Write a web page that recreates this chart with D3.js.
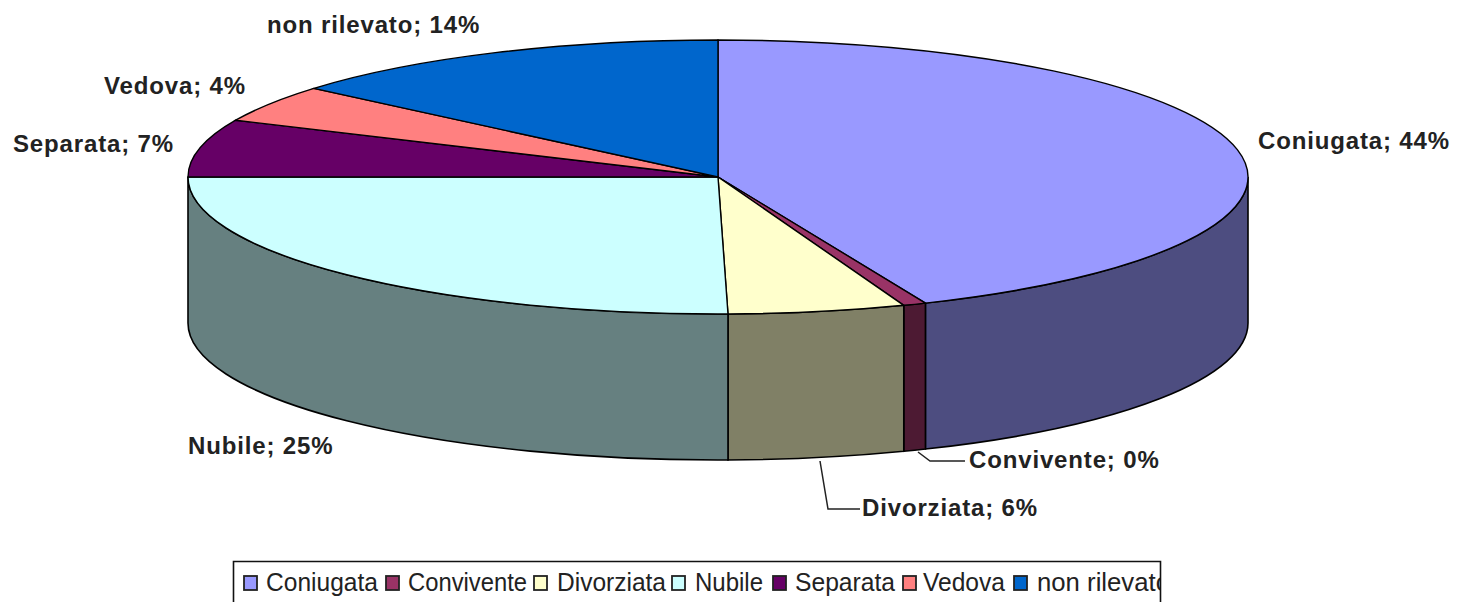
<!DOCTYPE html>
<html>
<head>
<meta charset="utf-8">
<script src="https://cdn.jsdelivr.net/npm/d3@7"></script>
<style>
  html, body { margin: 0; padding: 0; background: #fff; overflow: hidden; }
  svg { display: block; }
</style>
</head>
<body>
<div id="chart"></div>
<script>
// data
var categories = ["Coniugata", "Convivente", "Divorziata", "Nubile", "Separata", "Vedova", "non rilevato"];
var sliceValues = [43.6, 0.7, 5.4, 25.3, 6.8, 4.4, 13.8];
var shownPercent = [44, 0, 6, 25, 7, 4, 14];
var topColors = ["#9999FF", "#993366", "#FFFFCC", "#CCFFFF", "#660066", "#FF8080", "#0066CC"];

var svgWidth = 1461;
var svgHeight = 602;

// pie geometry
var cx = 718, cy = 177, rx = 530, ry = 137, depth = 146;

// label anchors, same order as categories
var labelPos = [[1258, 149], [969, 468], [862, 516], [188, 454], [13, 152], [104, 94], [267, 33]];

var svg = d3.select("#chart").append("svg")
    .attr("width", svgWidth)
    .attr("height", svgHeight);

var pie = d3.pie().sort(null).value(function(d) { return d; });
var slices = pie(sliceValues);

function px(a) { return cx + rx * Math.sin(a); }
function py(a) { return cy - ry * Math.cos(a); }

// side wall of a slice, only the part facing the viewer
function wallPath(s) {
    var a0 = Math.max(s.startAngle, Math.PI / 2);
    var a1 = Math.min(s.endAngle, Math.PI * 1.5);
    if (a1 <= a0) return null;
    return "M" + px(a0) + "," + py(a0) +
        "A" + rx + "," + ry + " 0 0 1 " + px(a1) + "," + py(a1) +
        "L" + px(a1) + "," + (py(a1) + depth) +
        "A" + rx + "," + ry + " 0 0 0 " + px(a0) + "," + (py(a0) + depth) + "Z";
}

svg.append("g").selectAll("path")
    .data(slices.filter(function(s) { return wallPath(s) !== null; }))
    .enter().append("path")
    .attr("d", wallPath)
    .attr("fill", function(s) {
        var c = d3.rgb(topColors[s.index]);
        return d3.rgb(c.r * 0.5, c.g * 0.5, c.b * 0.5);
    })
    .attr("stroke", "#000")
    .attr("stroke-width", 1.6);

// top face: unit arc squashed into the ellipse
var arc = d3.arc().innerRadius(0).outerRadius(rx);
svg.append("g")
    .attr("transform", "translate(" + cx + "," + cy + ") scale(1," + (ry / rx) + ")")
    .selectAll("path")
    .data(slices)
    .enter().append("path")
    .attr("d", arc)
    .attr("fill", function(s) { return topColors[s.index]; })
    .attr("stroke", "#000")
    .attr("stroke-width", 1.4)
    .attr("vector-effect", "non-scaling-stroke");

// leader lines
var line = d3.line();
[[[918, 452], [930, 461], [965, 461]], [[820, 461], [828, 509], [860, 509]]].forEach(function(l) {
    svg.append("path")
        .attr("d", line(l))
        .attr("fill", "none")
        .attr("stroke", "#222")
        .attr("stroke-width", 1.5);
});

// data labels
svg.append("g").selectAll("text")
    .data(categories)
    .enter().append("text")
    .attr("x", function(d, i) { return labelPos[i][0]; })
    .attr("y", function(d, i) { return labelPos[i][1]; })
    .attr("font-family", "'Liberation Sans', Arial, sans-serif")
    .attr("font-weight", "bold")
    .attr("font-size", 24)
    .attr("letter-spacing", 0.85)
    .attr("fill", "#222")
    .text(function(d, i) { return d + "; " + shownPercent[i] + "%"; });

// legend, cut off by the right border and the bottom of the image
svg.append("clipPath").attr("id", "legendClip")
    .append("rect").attr("x", 233).attr("y", 560).attr("width", 927).attr("height", 42);

var legend = svg.append("g").attr("clip-path", "url(#legendClip)");
var swatchX = [244, 386, 534, 672, 773, 903, 1014];
var textX = [266, 408, 557, 695, 795, 923, 1037];
var textW = [112, 119, 109, 68, 100, 82, 133];

legend.selectAll("rect")
    .data(categories)
    .enter().append("rect")
    .attr("x", function(d, i) { return swatchX[i]; })
    .attr("y", 576)
    .attr("width", 13)
    .attr("height", 14)
    .attr("fill", function(d, i) { return topColors[i]; })
    .attr("stroke", "#222")
    .attr("stroke-width", 1.8);

legend.selectAll("text")
    .data(categories)
    .enter().append("text")
    .attr("x", function(d, i) { return textX[i]; })
    .attr("y", 591)
    .attr("font-family", "'Liberation Sans', Arial, sans-serif")
    .attr("font-size", 26)
    .attr("textLength", function(d, i) { return textW[i]; })
    .attr("lengthAdjust", "spacingAndGlyphs")
    .attr("fill", "#222")
    .text(function(d) { return d; });

svg.append("path")
    .attr("d", "M233.5,602V561.5H1160.5V602")
    .attr("fill", "none")
    .attr("stroke", "#111")
    .attr("stroke-width", 1.6);
</script>
</body>
</html>
